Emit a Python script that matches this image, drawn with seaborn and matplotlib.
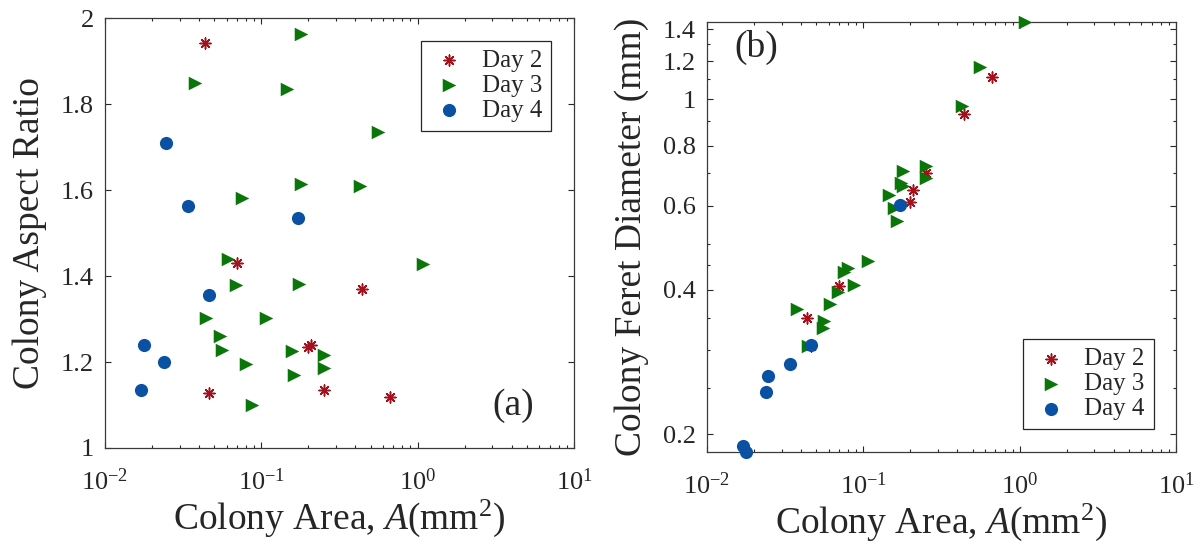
import matplotlib
matplotlib.use("Agg")
import numpy as np
import pandas as pd
import matplotlib.pyplot as plt
import seaborn as sns
from matplotlib.ticker import FixedLocator, NullFormatter, FuncFormatter, LogLocator

# Colony measurements per imaging day: area (mm^2), aspect ratio, Feret diameter (mm)
days = ["Day 2", "Day 3", "Day 4"]

day2_area = [0.0437, 0.0464, 0.0700, 0.199, 0.209, 0.250, 0.443, 0.667]
day2_aspect = [1.942, 1.127, 1.430, 1.235, 1.240, 1.135, 1.370, 1.118]
day2_feret = [0.350, 0.305, 0.408, 0.609, 0.647, 0.701, 0.929, 1.111]

day3_area = [0.180, 0.0379, 0.1466, 0.555, 0.180, 0.426, 0.0747, 0.0610, 1.076,
             0.0687, 0.175, 0.0443, 0.107, 0.0548, 0.0561, 0.1567, 0.250, 0.0798,
             0.252, 0.163, 0.0869]
day3_aspect = [1.964, 1.850, 1.835, 1.736, 1.615, 1.609, 1.581, 1.440, 1.428,
               1.380, 1.382, 1.302, 1.302, 1.260, 1.227, 1.225, 1.217, 1.195,
               1.187, 1.169, 1.101]
day3_feret = [0.709, 0.365, 0.632, 1.168, 0.658, 0.969, 0.436, 0.374, 1.446,
              0.396, 0.670, 0.305, 0.460, 0.334, 0.345, 0.594, 0.724, 0.445,
              0.685, 0.556, 0.409]

day4_area = [0.0169, 0.0177, 0.0239, 0.0245, 0.0338, 0.0461, 0.171]
day4_aspect = [1.135, 1.240, 1.200, 1.710, 1.564, 1.357, 1.536]
day4_feret = [0.189, 0.184, 0.245, 0.265, 0.280, 0.307, 0.601]

aspect_ticks = [1, 1.2, 1.4, 1.6, 1.8, 2]
feret_ticks = [0.2, 0.4, 0.6, 0.8, 1, 1.2, 1.4]
feret_minor = [0.25, 0.3, 0.35, 0.45, 0.5, 0.7, 0.9, 1.1, 1.3]

sns.set_style("ticks")
serif = ["Liberation Serif", "DejaVu Serif"]
plt.rcParams["font.family"] = serif
plt.rcParams["font.serif"] = serif
plt.rcParams["mathtext.fontset"] = "custom"
plt.rcParams["mathtext.rm"] = "Liberation Serif"
plt.rcParams["mathtext.it"] = "Liberation Serif:italic"
plt.rcParams["mathtext.bf"] = "Liberation Serif:bold"

ink = "#262626"

frames = []
for day, a, r, f in zip(days,
                        [day2_area, day3_area, day4_area],
                        [day2_aspect, day3_aspect, day4_aspect],
                        [day2_feret, day3_feret, day4_feret]):
    frames.append(pd.DataFrame({"day": day, "area": a, "aspect": r, "feret": f}))
df = pd.concat(frames, ignore_index=True)

styles = {
    "Day 2": dict(marker=(8, 2, 0), color="#A3121C", s=62, linewidth=1.1),
    "Day 3": dict(marker=">", color="#0A760A", s=95, linewidth=0),
    "Day 4": dict(marker="o", color="#0B51A3", s=90, linewidth=0),
}

fig = plt.figure(figsize=(12, 5.46), dpi=100)
ax1 = fig.add_axes([0.0875, 0.1795, 0.3908, 0.787])
ax2 = fig.add_axes([0.5892, 0.1727, 0.3908, 0.7864])

for ax, ycol in [(ax1, "aspect"), (ax2, "feret")]:
    for day in days:
        sub = df[df["day"] == day]
        sns.scatterplot(data=sub, x="area", y=ycol, ax=ax, label=day,
                        zorder=3, clip_on=False, **styles[day])
    ax.set_xscale("log")
    ax.set_xlim(0.01, 10)
    ax.xaxis.set_major_locator(LogLocator(base=10, numticks=10))
    ax.xaxis.set_minor_locator(LogLocator(base=10, subs=np.arange(2, 10), numticks=20))
    ax.xaxis.set_minor_formatter(NullFormatter())
    ax.tick_params(which="both", direction="in", top=True, right=True,
                   color=ink, labelcolor=ink, width=0.8, labelsize=19,
                   labelfontfamily="Liberation Serif")
    ax.tick_params(which="major", length=4.5)
    ax.tick_params(which="minor", length=2.2)
    ax.tick_params(axis="x", which="both", pad=15)
    ax.tick_params(axis="y", which="both", pad=8)
    for sp in ax.spines.values():
        sp.set_color("#3a3a3a")
        sp.set_linewidth(0.9)
    ax.set_xlabel(r"Colony Area, $A(\mathrm{mm}^2)$", fontsize=27, color=ink, labelpad=2)

# Aspect ratio panel
ax1.set_ylim(1, 2)
ax1.yaxis.set_major_locator(FixedLocator(aspect_ticks))
ax1.yaxis.set_major_formatter(FuncFormatter(lambda v, p: f"{v:g}"))
ax1.yaxis.set_minor_locator(FixedLocator([]))
ax1.set_ylabel("Colony Aspect Ratio", fontsize=27, color=ink, labelpad=10)
ax1.text(0.87, 0.098, "(a)", transform=ax1.transAxes, fontsize=27, color=ink,
         ha="center", va="center")

# Feret diameter panel
ax2.set_yscale("log")
ax2.set_ylim(df["feret"].min(), df["feret"].max())
ax2.yaxis.set_major_locator(FixedLocator(feret_ticks))
ax2.yaxis.set_major_formatter(FuncFormatter(lambda v, p: f"{v:g}"))
ax2.yaxis.set_minor_locator(FixedLocator(feret_minor))
ax2.yaxis.set_minor_formatter(NullFormatter())
ax2.set_ylabel("Colony Feret Diameter (mm)", fontsize=27, color=ink, labelpad=10)
ax2.text(0.104, 0.942, "(b)", transform=ax2.transAxes, fontsize=27, color=ink,
         ha="center", va="center")

legend_kw = dict(fontsize=18, frameon=True, fancybox=False, shadow=False,
                 borderpad=0.35, handlelength=1.5, handletextpad=0.6,
                 labelspacing=0.1, borderaxespad=0.9, framealpha=1)
for ax, loc in [(ax1, "upper right"), (ax2, "lower right")]:
    leg = ax.legend(loc=loc, **legend_kw)
    leg.get_frame().set_edgecolor(ink)
    leg.get_frame().set_linewidth(0.9)
    for t in leg.get_texts():
        t.set_color(ink)

fig.savefig("out.png", dpi=100)
